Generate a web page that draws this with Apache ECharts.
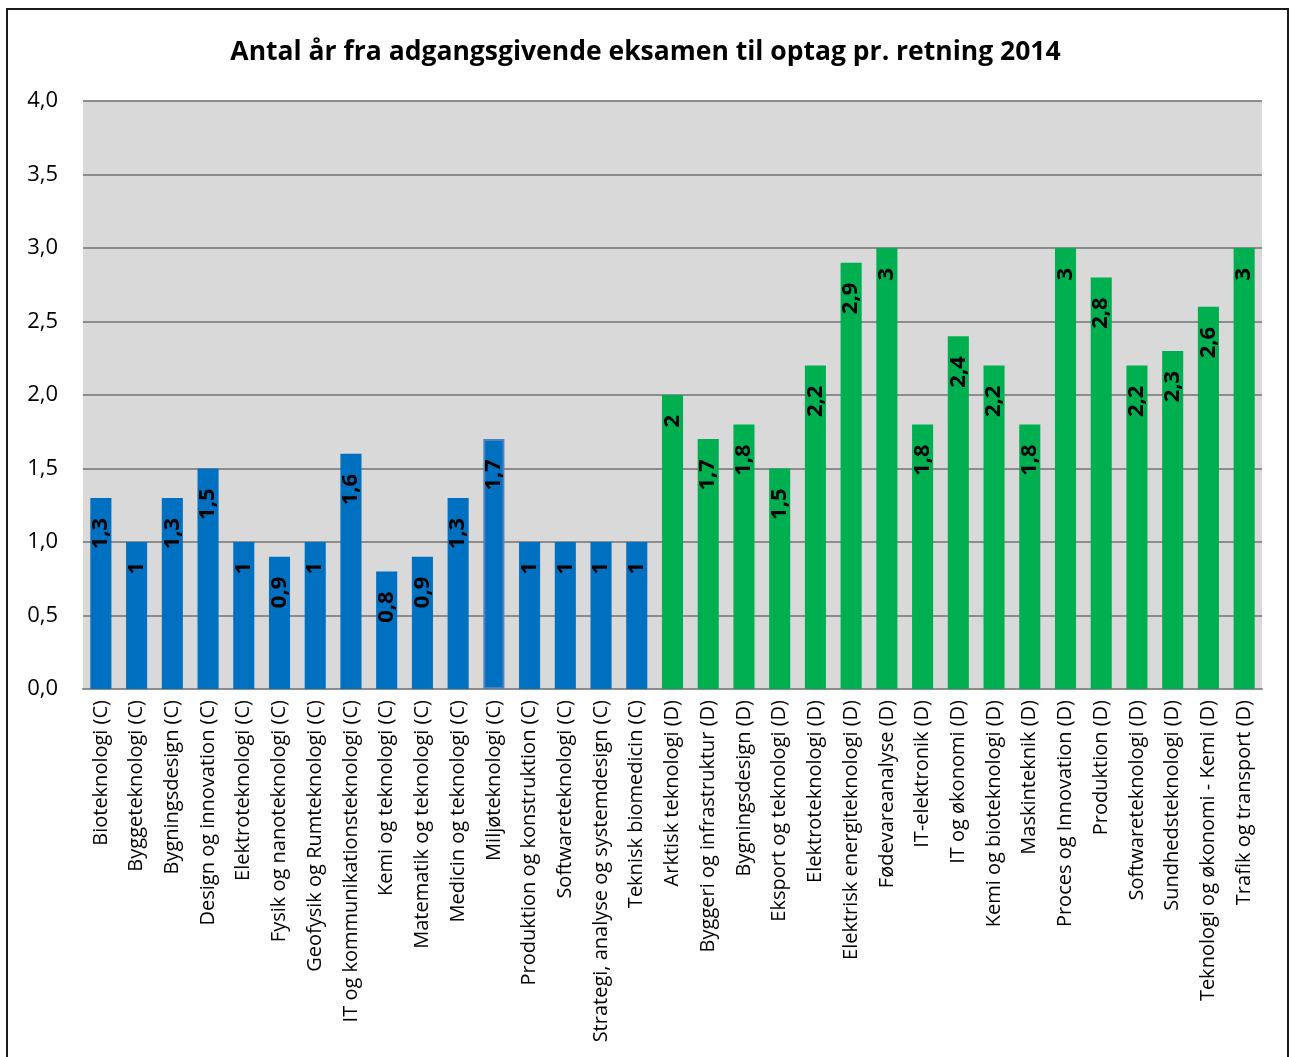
<!DOCTYPE html>
<html>
<head>
<meta charset="utf-8">
<script src="https://cdn.jsdelivr.net/npm/echarts@6/dist/echarts.min.js"></script>
<style>
  html, body { margin: 0; padding: 0; background: #fff; }
  #frame {
    position: absolute; left: 6px; top: 8px; width: 1283px; height: 1060px;
    border: 2px solid #1a1a1a; box-sizing: border-box;
  }
  #chart { position: absolute; left: 0; top: 0; width: 1291px; height: 1057px; }
</style>
</head>
<body>
<div id="frame"></div>
<div id="chart"></div>
<script>
// retninger (C = blå, D = grøn)
const categories = [
  "Bioteknologi (C)", "Byggeteknologi (C)", "Bygningsdesign (C)", "Design og innovation (C)",
  "Elektroteknologi (C)", "Fysik og nanoteknologi (C)", "Geofysik og Rumteknologi (C)",
  "IT og kommunikationsteknologi (C)", "Kemi og teknologi (C)", "Matematik og teknologi (C)",
  "Medicin og teknologi (C)", "Miljøteknologi (C)", "Produktion og konstruktion (C)",
  "Softwareteknologi (C)", "Strategi, analyse og systemdesign (C)", "Teknisk biomedicin (C)",
  "Arktisk teknologi (D)", "Byggeri og infrastruktur (D)", "Bygningsdesign (D)",
  "Eksport og teknologi (D)", "Elektroteknologi (D)", "Elektrisk energiteknologi (D)",
  "Fødevareanalyse (D)", "IT-elektronik (D)", "IT og økonomi (D)", "Kemi og bioteknologi (D)",
  "Maskinteknik (D)", "Proces og Innovation (D)", "Produktion (D)", "Softwareteknologi (D)",
  "Sundhedsteknologi (D)", "Teknologi og økonomi - Kemi (D)", "Trafik og transport (D)"
];
const values = [
  1.3, 1, 1.3, 1.5, 1, 0.9, 1, 1.6, 0.8, 0.9, 1.3, 1.7, 1, 1, 1, 1,
  2, 1.7, 1.8, 1.5, 2.2, 2.9, 3, 1.8, 2.4, 2.2, 1.8, 3, 2.8, 2.2, 2.3, 2.6, 3
];
const groups = [
  "C","C","C","C","C","C","C","C","C","C","C","C","C","C","C","C",
  "D","D","D","D","D","D","D","D","D","D","D","D","D","D","D","D","D"
];
const groupColor = { C: "#0070c0", D: "#00b050" };

const FONT = "'Open Sans', 'Liberation Sans', sans-serif";

let myChart = echarts.init(document.getElementById("chart"));
let option;

option = {
  animation: false,
  backgroundColor: "transparent",
  title: {
    text: "Antal år fra adgangsgivende eksamen til optag pr. retning 2014",
    left: "center",
    top: 34,
    textStyle: { fontFamily: FONT, fontWeight: "bold", fontSize: 26.5, color: "#000" }
  },
  grid: {
    left: 83, right: 29, top: 101, bottom: 368,
    show: true, backgroundColor: "#d9d9d9", borderWidth: 0
  },
  xAxis: {
    type: "category",
    data: categories,
    axisTick: { show: false },
    axisLine: { lineStyle: { color: "#8c8c8c", width: 2 } },
    axisLabel: {
      interval: 0, rotate: 90, margin: 11,
      fontFamily: FONT, fontSize: 20, color: "#000"
    }
  },
  yAxis: {
    type: "value",
    min: 0, max: 4, interval: 0.5,
    axisLine: { show: false },
    axisTick: { show: false },
    splitLine: { lineStyle: { color: "#8c8c8c", width: 2 } },
    axisLabel: {
      margin: 25, fontFamily: FONT, fontSize: 22, color: "#000",
      formatter: (v) => v.toFixed(1).replace(".", ",")
    }
  },
  series: [
    {
      type: "bar",
      barCategoryGap: "41%",
      data: values.map((v, i) => {
        let item = { value: v, itemStyle: { color: groupColor[groups[i]] } };
        // Miljøteknologi er markeret med en kant
        if (categories[i] === "Miljøteknologi (C)") {
          item.itemStyle.borderColor = "#4f81bd";
          item.itemStyle.borderWidth = 2;
        }
        return item;
      }),
      label: {
        show: true,
        position: "insideTop",
        rotate: 90,
        align: "right",
        verticalAlign: "middle",
        distance: 22,
        offset: [2, 0],
        fontFamily: FONT, fontWeight: "bold", fontSize: 22, color: "#000",
        formatter: (p) => String(p.value).replace(".", ",")
      }
    }
  ]
};

option && myChart.setOption(option);
</script>
</body>
</html>
